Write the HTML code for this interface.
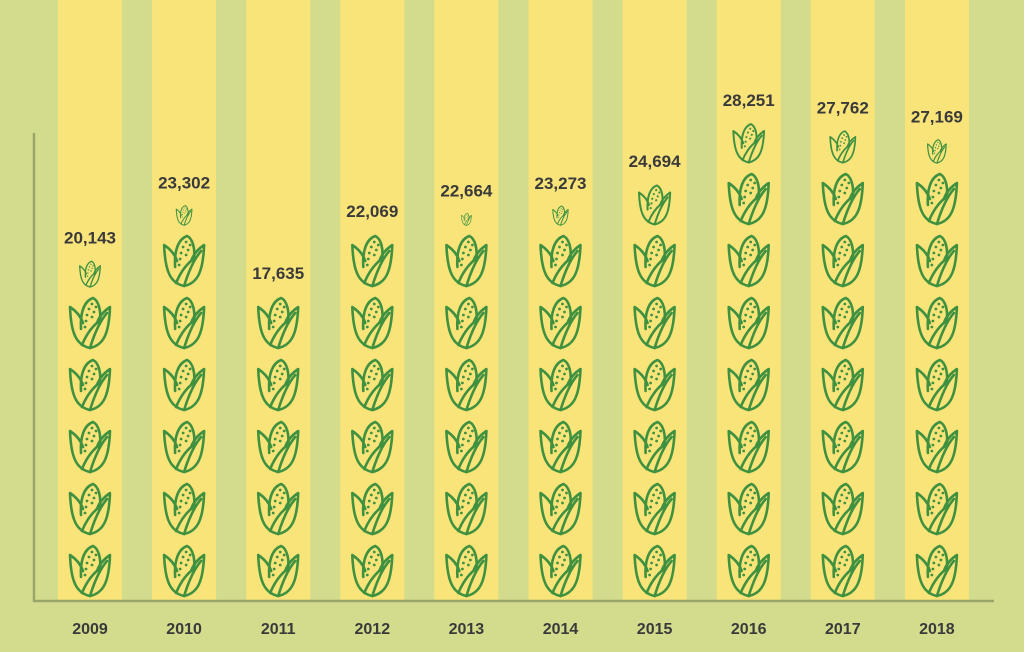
<!DOCTYPE html>
<html><head><meta charset="utf-8"><style>
body{margin:0;width:1024px;height:652px;background:#d3dc8c;overflow:hidden;font-family:"Liberation Sans",sans-serif}
svg{display:block}
</style></head><body>
<svg id="chart" width="1024" height="652" viewBox="0 0 1024 652">
<defs>
<g id="corn">
<path d="M22,53 C8,50 3,38 2,12 C8,16 13,22 15,28 M22,53 C36,50 41,38 42,12 C36,16 31,22 29,28" fill="none" stroke="#3f9140" stroke-width="2.6" stroke-linecap="round" stroke-linejoin="round"/>
<path d="M13,34 C12,18 16,6 25,3 C31,6 33,16 32,26" fill="none" stroke="#3f9140" stroke-width="2.6" stroke-linecap="round"/>
<path d="M22,53 C26,40 32,26 39,18 M14,50 C18,40 24,32 30,27" fill="none" stroke="#3f9140" stroke-width="2.6" stroke-linecap="round"/>
<g fill="#3f9140"><circle cx="24" cy="9" r="1.4"/><circle cx="28" cy="12" r="1.4"/><circle cx="21" cy="14" r="1.4"/><circle cx="26" cy="17" r="1.4"/><circle cx="19" cy="20" r="1.4"/><circle cx="24" cy="22" r="1.4"/><circle cx="18" cy="26" r="1.4"/><circle cx="17" cy="32" r="1.4"/></g>
</g>
</defs>
<g id="bands"></g>
<g id="icons"></g>
<g id="labels"></g>
<line x1="34" y1="133" x2="34" y2="602" stroke="#98a66a" stroke-width="2.5"/>
<line x1="33" y1="601" x2="994" y2="601" stroke="#98a66a" stroke-width="2.5"/>
</svg>
<script>
const years=["2009","2010","2011","2012","2013","2014","2015","2016","2017","2018"];
const values=[20143,23302,17635,22069,22664,23273,24694,28251,27762,27169];
const unit=3600;
const NS="http://www.w3.org/2000/svg";
const x0=90,dx=94.1,baseY=601,rowH=62,iconW=44,iconH=55;
function xc(i){return x0+i*dx;}
const bands=document.getElementById('bands'),icons=document.getElementById('icons'),labels=document.getElementById('labels');
years.forEach((y,i)=>{
 const cx=xc(i);
 const r=document.createElementNS(NS,'rect');
 r.setAttribute('x',cx-32);r.setAttribute('y',0);r.setAttribute('width',64);r.setAttribute('height',baseY);
 r.setAttribute('fill','#f9e47a');
 
 
 bands.appendChild(r);
 const n=values[i]/unit;
 let full=Math.floor(n),frac=n-full;
 if(frac>=0.88){full+=1;frac=0;}
 let top=baseY;
 for(let k=0;k<full;k++){
  const rowBottom=baseY-k*rowH-1;
  const u=document.createElementNS(NS,'use');
  u.setAttribute('href','#corn');
  u.setAttribute('transform',`translate(${cx-iconW/2},${rowBottom-iconH-2})`);
  
  
  icons.appendChild(u);
  top=rowBottom-iconH-2;
 }
 if(frac>=0.2){
  const s=Math.max(0.25,frac-0.08);
  const rowBottom=baseY-full*rowH-1;
  const h=iconH*s,w=iconW*s;
  const u=document.createElementNS(NS,'use');
  u.setAttribute('href','#corn');
  u.setAttribute('transform',`translate(${cx-w/2},${rowBottom-h-2}) scale(${s})`);
  
  
  icons.appendChild(u);
  top=rowBottom-h-2;
 }
 const t=document.createElementNS(NS,'text');
 t.setAttribute('x',cx);t.setAttribute('y',top-16);
 t.setAttribute('text-anchor','middle');t.setAttribute('font-weight','bold');t.setAttribute('font-size','17');t.setAttribute('fill','#3a3a3a');
 t.textContent=values[i].toLocaleString('en-US');
 
 
 labels.appendChild(t);
 const yl=document.createElementNS(NS,'text');
 yl.setAttribute('x',cx);yl.setAttribute('y',634);
 yl.setAttribute('text-anchor','middle');yl.setAttribute('font-weight','bold');yl.setAttribute('font-size','16');yl.setAttribute('fill','#3a3a3a');
 yl.textContent=y;
 
 
 labels.appendChild(yl);
});
</script>
</body></html>
